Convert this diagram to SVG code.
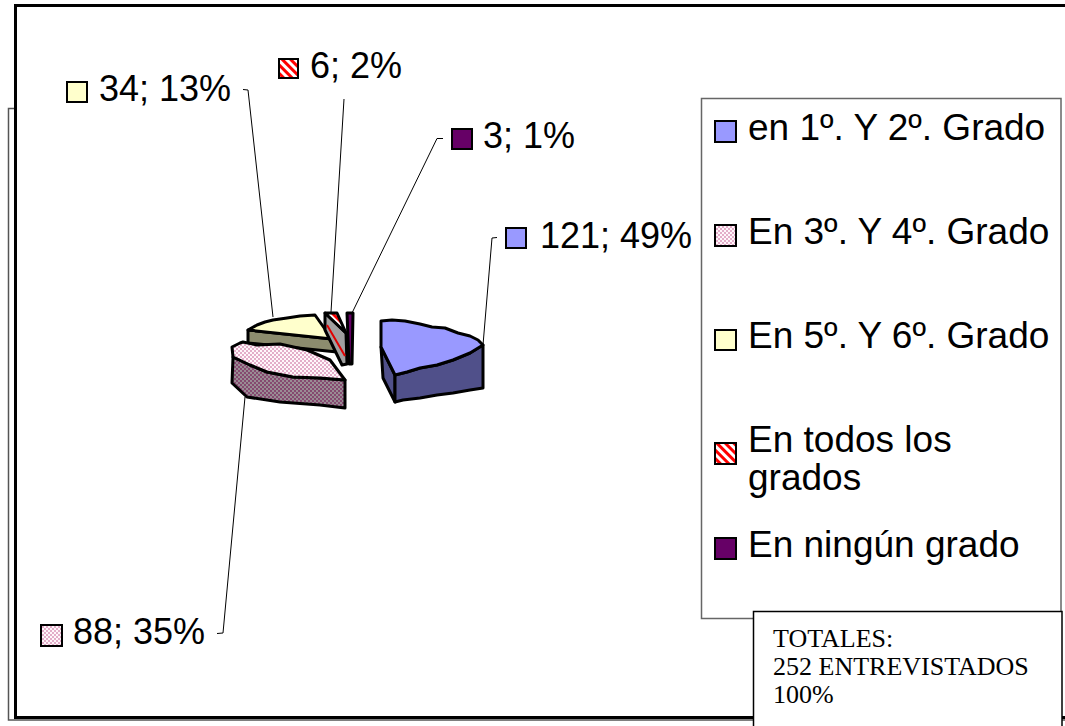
<svg xmlns="http://www.w3.org/2000/svg" width="1065" height="726" viewBox="0 0 1065 726">
<style>
.lbl{font-family:"Liberation Sans",Arial,sans-serif;font-size:36px;fill:#000}
.leg{font-family:"Liberation Sans",Arial,sans-serif;font-size:37px;fill:#000}
.tot{font-family:"Liberation Serif","Times New Roman",serif;font-size:26px;fill:#000}
.sq{stroke:#000;stroke-width:2}
.edge{stroke:#000;stroke-width:3;stroke-linejoin:round}
.lead{stroke:#000;stroke-width:1;fill:none}
</style>
<defs>
<pattern id="dots" width="4" height="4" patternUnits="userSpaceOnUse">
<rect width="4" height="4" fill="#FFF6FA"/>
<circle cx="1" cy="1" r="0.8" fill="#C0508A"/>
<circle cx="3" cy="3" r="0.8" fill="#C0508A"/>
</pattern>
<pattern id="dotsDark" width="4" height="4" patternUnits="userSpaceOnUse">
<rect width="4" height="4" fill="#9A8C94"/>
<circle cx="1" cy="1" r="0.9" fill="#7A2A5E"/>
<circle cx="3" cy="3" r="0.9" fill="#7A2A5E"/>
</pattern>
<pattern id="stripes" width="6" height="6" patternUnits="userSpaceOnUse" patternTransform="rotate(-45)">
<rect width="6" height="6" fill="#FFFFFF"/>
<rect width="3" height="6" fill="#FF0000"/>
</pattern>
</defs>
<rect x="8.5" y="108.5" width="1200" height="611.5" fill="#FFFFFF" stroke="#555" stroke-width="1.5"/>
<rect x="15.5" y="5.5" width="1200" height="712" fill="#FFFFFF" stroke="#000" stroke-width="3"/>
<g id="connectors">
<polyline class="lead" points="243,89.5 248,90 273,317"/>
<polyline class="lead" points="344,99 331,312"/>
<polyline class="lead" points="443,138.5 437,138.5 352,313"/>
<polyline class="lead" points="497,237.5 492,238 483,345"/>
<polyline class="lead" points="217,633.5 223,633 245,397"/>
</g>
<g id="slice-yellow">
<polygon class="edge" fill="#8C8C6E" points="248,330 332,339 337,352 248,343"/>
<polygon class="edge" fill="#FFFFCC" points="248,330 257,325 265,322 273,320 287,318 300,316 315,315 332,339"/>
</g>
<g id="slice-red">
<polygon class="edge" fill="#A0A0A0" points="325,313 346,333 347,364 342,365 325,330"/>
<line x1="327" y1="325" x2="345" y2="356" stroke="#E00000" stroke-width="2"/>
<polygon class="edge" fill="url(#stripes)" points="325,313 337,313 346,333"/>
</g>
<g id="slice-purple">
<polygon class="edge" fill="#660066" points="347,313 353,313 352,364 349,364"/>
</g>
<g id="slice-pink">
<polygon class="edge" fill="url(#dotsDark)" points="233,357 250,365 267,372 293,377 320,378 345,380 345,408 320,405 280,402 247,397 232,383"/>
<polygon class="edge" fill="url(#dots)" points="232,347 240,343 243,342 257,345 280,344 307,350 330,360 345,380 320,378 293,377 267,372 250,365 233,357"/>
</g>
<g id="slice-blue">
<polygon class="edge" fill="#50508A" points="381,347 395,375 395,402 383,378"/>
<polygon class="edge" fill="#50508A" points="395,375 407,372 420,368 437,365 453,360 470,353 483,345 483,388 470,390 453,393 437,395 420,398 403,400 395,402"/>
<polygon class="edge" fill="#9999FF" points="381,321 392,320 405,321 420,324 432,327 445,328 458,333 470,336 478,340 483,345 470,353 453,360 437,365 420,368 407,372 395,375 381,347"/>
</g>
<g id="label-34">
<rect class="sq" x="67" y="82" width="20" height="20" fill="#FFFFCC"/>
<text class="lbl" x="99" y="101">34; 13%</text>
</g>
<g id="label-6">
<rect class="sq" x="279" y="59" width="19" height="19" fill="url(#stripes)"/>
<text class="lbl" x="310" y="78">6; 2%</text>
</g>
<g id="label-3">
<rect class="sq" x="452" y="129" width="20" height="20" fill="#660066"/>
<text class="lbl" x="483" y="148">3; 1%</text>
</g>
<g id="label-121">
<rect class="sq" x="506" y="228" width="20" height="20" fill="#9999FF"/>
<text class="lbl" x="540" y="248">121; 49%</text>
</g>
<g id="label-88">
<rect class="sq" x="41" y="625" width="21" height="21" fill="url(#dots)"/>
<text class="lbl" x="73" y="644">88; 35%</text>
</g>
<g id="legend">
<rect x="701.5" y="98.5" width="359.5" height="520" fill="#FFFFFF" stroke="#666" stroke-width="1.5"/>
<rect class="sq" x="715" y="121" width="21" height="21" fill="#9999FF"/>
<text class="leg" x="748" y="140">en 1º. Y 2º. Grado</text>
<rect class="sq" x="715" y="225" width="21" height="21" fill="url(#dots)"/>
<text class="leg" x="748" y="244">En 3º. Y 4º. Grado</text>
<rect class="sq" x="715" y="330" width="21" height="20" fill="#FFFFCC"/>
<text class="leg" x="748" y="348">En 5º. Y 6º. Grado</text>
<rect class="sq" x="715" y="443" width="21" height="21" fill="url(#stripes)"/>
<text class="leg" x="748" y="452">En todos los</text>
<text class="leg" x="748" y="490">grados</text>
<rect class="sq" x="715" y="538" width="21" height="21" fill="#660066"/>
<text class="leg" x="748" y="557">En ningún grado</text>
</g>
<g id="totals">
<rect x="753.5" y="611.5" width="308.5" height="130" fill="#FFFFFF" stroke="#000" stroke-width="1.5"/>
<text class="tot" x="773" y="647">TOTALES:</text>
<text class="tot" x="773" y="675">252 ENTREVISTADOS</text>
<text class="tot" x="773" y="703">100%</text>
</g>
</svg>
